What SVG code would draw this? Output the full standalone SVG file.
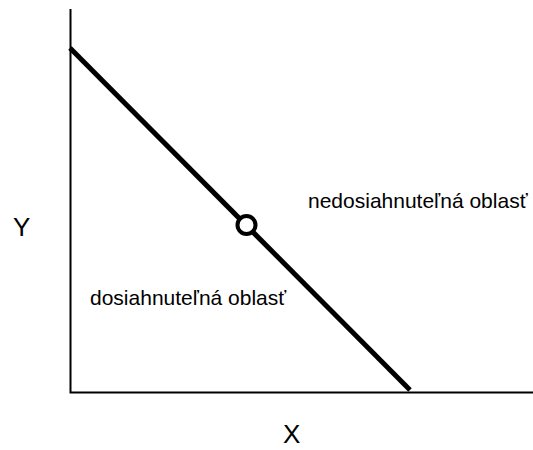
<svg xmlns="http://www.w3.org/2000/svg" width="533" height="450" viewBox="0 0 533 450">
<style>
.t{font-family:"Liberation Sans",Arial,sans-serif;font-size:21px;fill:#000}
.ax{font-family:"Liberation Sans",Arial,sans-serif;font-size:26px;fill:#000}
</style>
<rect width="533" height="450" fill="#fff"/>
<g id="connectors" fill="none" stroke="#000">
<path d="M70.5 9 V392.5 H533" stroke-width="2"/>
<path d="M70 48 L410 390" stroke-width="5"/>
</g>
<g id="point"><circle cx="246.5" cy="225" r="9" fill="#fff" stroke="#000" stroke-width="4"/></g>
<g id="labels">
<text class="t" x="308" y="208">nedosiahnuteľná oblasť</text>
<text class="t" x="90" y="305">dosiahnuteľná oblasť</text>
<text class="ax" x="13" y="236">Y</text>
<text class="ax" x="283" y="443">X</text>
</g>
</svg>
